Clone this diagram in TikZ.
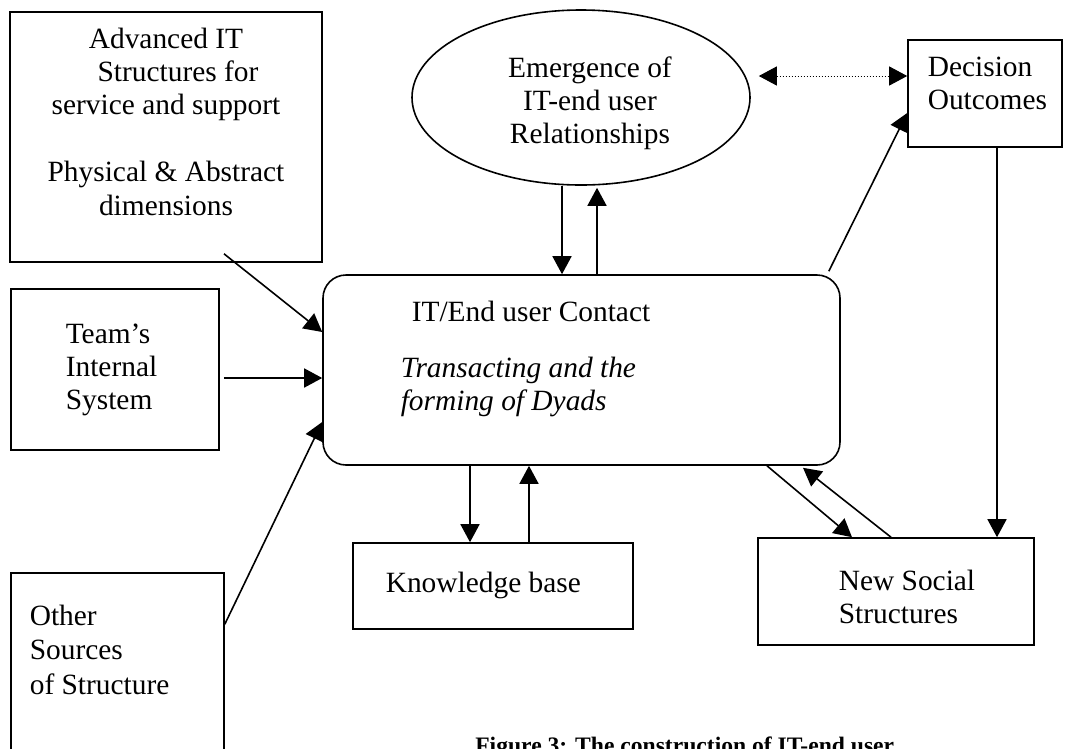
\documentclass[tikz,border=0pt]{standalone}
\usepackage{fontspec}
\setmainfont{Liberation Serif}
\usetikzlibrary{arrows.meta,shapes.geometric}
\newcommand\mlines[2]{\begin{tabular}[t]{@{}#1@{}}#2\end{tabular}}
\begin{document}
\begin{tikzpicture}[x=1pt,y=-1pt,line width=1.6pt,
  box/.style={draw,rectangle,inner sep=0pt},
  body/.style={inner sep=0pt,font=\fontsize{29.4}{33.4}\selectfont},
  txtl/.style={body,anchor=base west},
  txtc/.style={body,anchor=base},
  arr/.style={-{Triangle[length=18pt,width=19pt]}},
  darr/.style={{Triangle[length=18pt,width=19pt]}-{Triangle[length=18pt,width=19pt]},line width=1pt,dotted}]
\useasboundingbox (0,0) rectangle (1065,748);

% boxes
\node[box,minimum width=312pt,minimum height=250pt] (adv) at (166,137) {};
\node[draw,ellipse,inner sep=0pt,minimum width=338pt,minimum height=175pt] (ell) at (581,97.5) {};
\node[box,minimum width=154pt,minimum height=107pt] (dec) at (985,93.5) {};
\node[box,rounded corners=23pt,minimum width=517pt,minimum height=190pt] (contact) at (581.5,370) {};
\node[box,minimum width=208pt,minimum height=161pt] (team) at (115,369.5) {};
\node[box,minimum width=280pt,minimum height=86pt] (kb) at (493,586) {};
\node[box,minimum width=276pt,minimum height=107pt] (ns) at (896,591.5) {};
\node[box,minimum width=213pt,minimum height=197pt] (other) at (117.5,671.5) {};

% texts
\node[txtc] (advt) at (166,48) {\mlines{c}{Advanced IT\\\hspace*{24pt}Structures for\\service and support\\ \\Physical \& Abstract\\dimensions}};
\node[txtc] (ellt) at (590,77) {\mlines{c}{Emergence of\\IT-end user\\Relationships}};
\node[txtl] (dect) at (927,76) {\mlines{l}{Decision\\Outcomes}};
\node[txtl] (contt) at (411,321) {IT/End user Contact};
\node[txtl] (contit) at (400,377) {\mlines{l}{\textit{Transacting and the}\\\textit{forming of Dyads}}};
\node[txtl] (teamt) at (65,343) {\mlines{l}{Team’s\\Internal\\System}};
\node[txtl] (kbt) at (385,592) {Knowledge base};
\node[txtl] (nst) at (838,590) {\mlines{l}{New Social\\Structures}};
\node[txtl] (othert) at (29,625) {\mlines{l}{Other\\[1.5pt]Sources\\[1.5pt]of Structure}};
\node[inner sep=0pt,anchor=base east,font=\fontsize{23.6}{28}\selectfont\bfseries] (cap) at (895,753) {Figure 3: The construction of IT-end user};

% connectors
\draw[arr] ([xshift=58pt,yshift=9pt]adv.south) -- ([yshift=38pt]contact.west);
\draw[arr] ([xshift=4pt,yshift=-8.5pt]team.east) -- ([yshift=-8pt]contact.west);
\draw[arr] ([yshift=-52pt]other.north east) -- ([yshift=-52pt]contact.west);
\draw[arr] ([xshift=-19pt]ell.south) -- ([xshift=-19.5pt]contact.north);
\draw[arr] ([xshift=15.5pt]contact.north) -- ([xshift=16pt,yshift=-2pt]ell.south);
\draw[arr] ([xshift=-111.5pt]contact.south) -- ([xshift=-23pt]kb.north);
\draw[arr] ([xshift=36pt]kb.north) -- ([xshift=-52.5pt]contact.south);
\draw[arr] ([xshift=-12pt,yshift=3pt]contact.north east) -- ([yshift=-19.5pt]dec.west);
\draw[darr] ([xshift=8pt,yshift=21.5pt]ell.east) -- ([yshift=17.5pt]dec.west);
\draw[arr] ([xshift=12pt]dec.south) -- ([xshift=101pt]ns.north);
\draw[arr] ([xshift=185.5pt]contact.south) -- ([xshift=-44pt]ns.north);
\draw[arr] ([xshift=-5pt]ns.north) -- ([xshift=221.5pt,yshift=-2pt]contact.south);
\end{tikzpicture}
\end{document}
